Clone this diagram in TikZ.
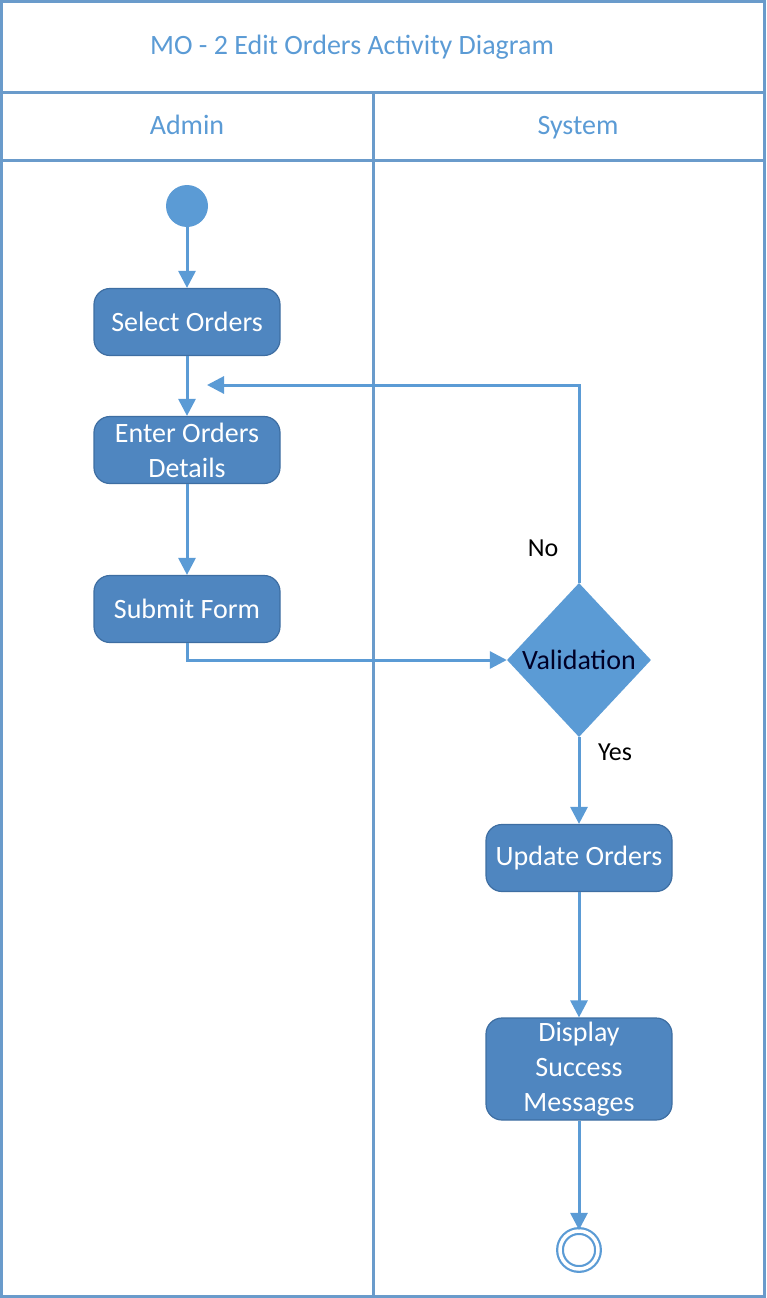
\documentclass[tikz,border=0pt]{standalone}
\usepackage{fontspec}
\setmainfont{Carlito}
\usetikzlibrary{arrows.meta,shapes.geometric}
\definecolor{lineblue}{HTML}{5B9BD5}
\definecolor{framebl}{HTML}{6A9BCB}
\definecolor{boxfill}{HTML}{4F86C0}
\definecolor{boxedge}{HTML}{3E6EA2}
\definecolor{titleblue}{HTML}{5B9BD5}
\tikzset{
  actbox/.style={rectangle, rounded corners=16pt, fill=boxfill, draw=boxedge, line width=1.2pt,
    minimum width=186pt, minimum height=67pt, text=white, align=center,
    font=\fontsize{28}{35}\selectfont, inner sep=2pt},
  flow/.style={draw=lineblue, line width=3pt, -{Triangle[length=17pt,width=17pt]}},
  frame/.style={draw=framebl, line width=3pt},
  hdr/.style={text=titleblue, font=\fontsize{28}{34}\selectfont, text height=0.68em, text depth=0.22em},
  lbl/.style={text=black, font=\fontsize{26}{30}\selectfont}
}
\begin{document}
\begin{tikzpicture}[x=1pt,y=-1pt]
\useasboundingbox (0,0) rectangle (766,1298);
% frame
\draw[frame] (1.5,1.5) rectangle (764.5,1296.5);
\draw[frame] (1.5,92) -- (764.5,92);
\draw[frame] (1.5,160) -- (764.5,160);
\draw[frame] (373,92) -- (373,1296.5);
\node[hdr] (title) at (352,52) {MO - 2 Edit Orders Activity Diagram};
\node[hdr] (admin) at (187,132) {Admin};
\node[hdr] (system) at (578,132) {System};
% nodes
\node[circle, fill=lineblue, minimum size=42pt, inner sep=0pt] (start) at (187,206) {};
\node[actbox] (sel) at (187,322) {Select Orders};
\node[actbox] (ent) at (187,450) {Enter Orders\\Details};
\node[actbox] (sub) at (187,609) {Submit Form};
\node[diamond, fill=lineblue, minimum width=144pt, minimum height=154pt, inner sep=0pt,
  text=black!85!blue, font=\fontsize{28}{34}\selectfont] (val) at (579,660) {Validation};
\node[actbox] (upd) at (579,858) {Update Orders};
\node[actbox, minimum height=102pt] (disp) at (579,1069) {Display\\Success\\Messages};
\node[circle, draw=lineblue, line width=2.2pt, double=white, double distance=3.5pt,
  fill=white, minimum size=38pt, inner sep=0pt] (end) at (579,1250) {};
\coordinate (loopend) at (207,385);
% connectors
\draw[flow] (start) -- (sel);
\draw[flow] (sel) -- (ent);
\draw[flow] (ent) -- (sub);
\draw[flow] (sub.south) |- (val.west);
\draw[flow] (val.north) |- (loopend);
\draw[flow] (val.south) -- (upd.north);
\draw[flow] (upd) -- (disp);
\draw[flow] (disp) -- (end);
\node[lbl] (no) at (543,548) {No};
\node[lbl] (yes) at (615,752) {Yes};
\end{tikzpicture}
\end{document}
